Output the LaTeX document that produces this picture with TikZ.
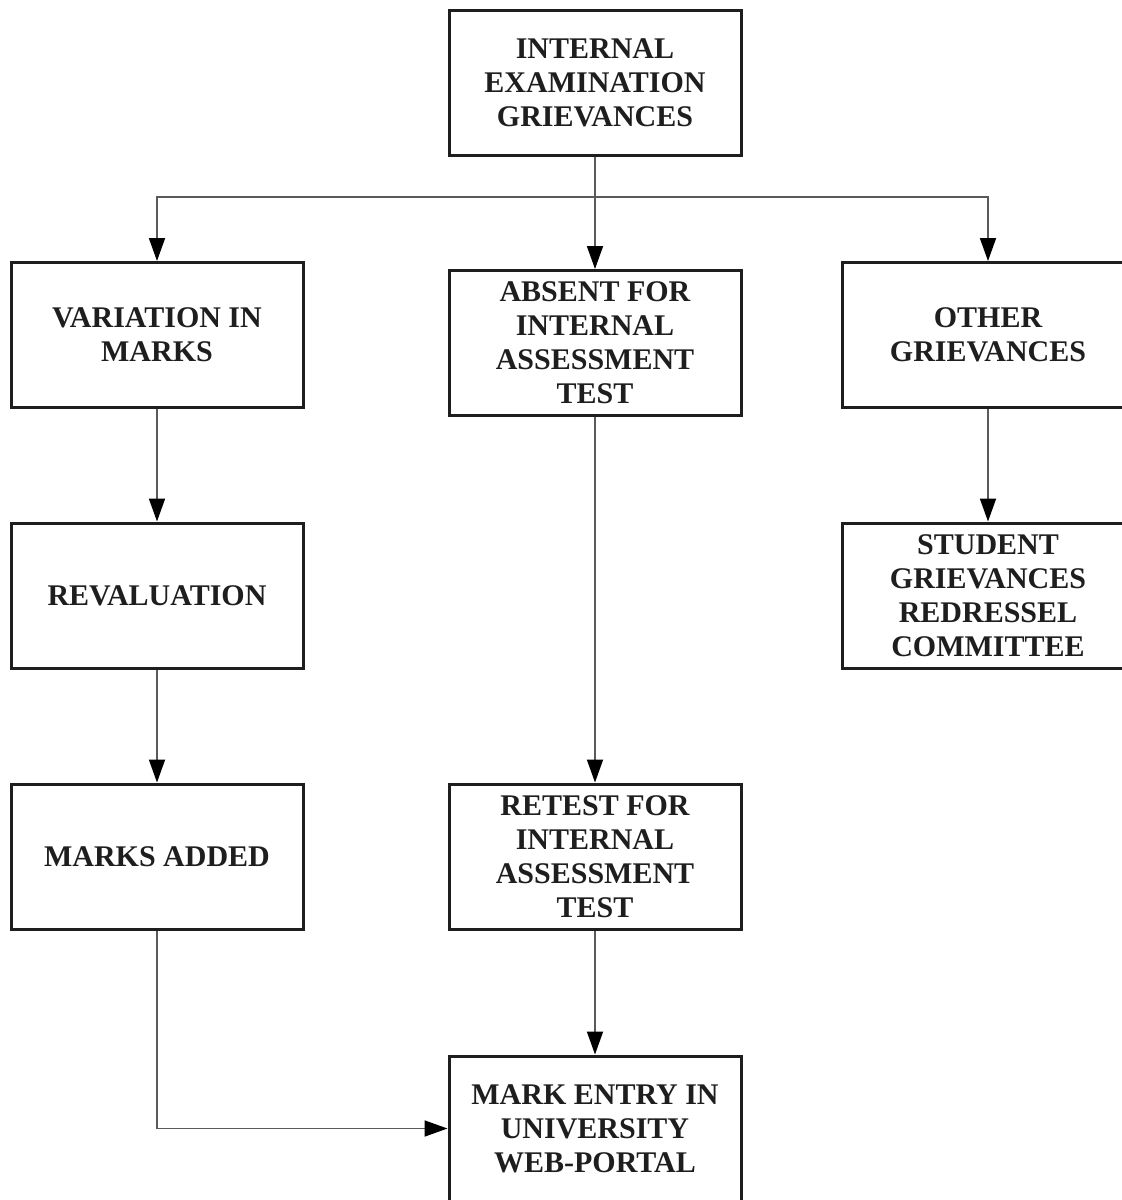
\documentclass[tikz,border=0pt]{standalone}
\usepackage{fontspec}
\setmainfont{Liberation Serif}
\usetikzlibrary{arrows.meta}
\definecolor{ink}{HTML}{1E1E1E}
\definecolor{wire}{HTML}{5A5A5A}
\tikzset{
  box/.style={draw=ink, line width=3pt, minimum width=292pt, minimum height=145pt,
    inner sep=0pt, align=center, text=ink,
    font=\fontsize{30}{34}\selectfont\bfseries},
  conn/.style={draw=wire, line width=1.8pt,
    -{Triangle[length=23pt,width=16pt,fill=black,color=black]}}
}
\begin{document}
\begin{tikzpicture}[x=1pt,y=-1pt]
  \useasboundingbox (0,0) rectangle (1122,1200);
  % grievance categories
  \node[box] (top)     at (595,82.5)  {INTERNAL\\EXAMINATION\\GRIEVANCES};
  \node[box] (var)     at (157,335)   {VARIATION IN\\MARKS};
  \node[box] (absent)  at (595,343)   {ABSENT FOR\\INTERNAL\\ASSESSMENT\\TEST};
  \node[box] (other)   at (988,335)   {OTHER\\GRIEVANCES};
  % follow-up steps
  \node[box] (reval)   at (157,595.5) {REVALUATION};
  \node[box] (student) at (988,595.5) {STUDENT\\GRIEVANCES\\REDRESSEL\\COMMITTEE};
  \node[box] (added)   at (157,856.5) {MARKS ADDED};
  \node[box] (retest)  at (595,856.5) {RETEST FOR\\INTERNAL\\ASSESSMENT\\TEST};
  \node[box] (entry)   at (595,1128.5){MARK ENTRY IN\\UNIVERSITY\\WEB-PORTAL};
  % branching from the top box
  \coordinate (branch) at (595,197);
  \draw[conn] (top.south) -- (absent.north);
  \draw[conn] (branch) -| (var.north);
  \draw[conn] (branch) -| (other.north);
  % vertical flows
  \draw[conn] (var.south) -- (reval.north);
  \draw[conn] (reval.south) -- (added.north);
  \draw[conn] (absent.south) -- (retest.north);
  \draw[conn] (other.south) -- (student.north);
  \draw[conn] (retest.south) -- (entry.north);
  \draw[conn] (added.south) |- (entry.west);
\end{tikzpicture}
\end{document}
